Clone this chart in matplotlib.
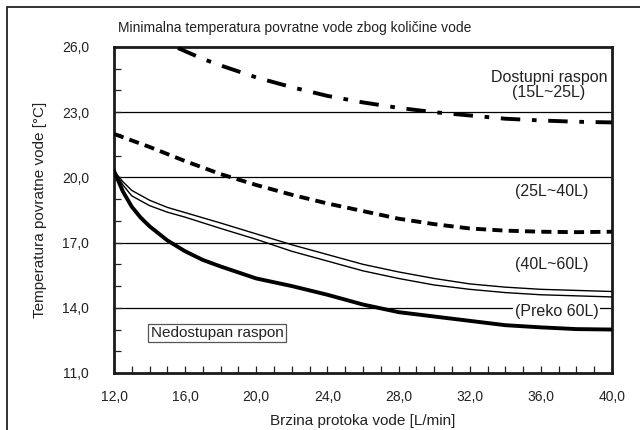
import numpy as np
import matplotlib
matplotlib.use('Agg')
import matplotlib.pyplot as plt
from matplotlib.patches import Rectangle
from matplotlib.ticker import MultipleLocator

plt.rcParams['font.family'] = ['Liberation Sans', 'DejaVu Sans']
plt.rcParams['font.size'] = 10

# krivulje minimalne temperature povratne vode
x_1525 = [15.6, 17, 18, 20, 22, 24, 26, 28, 30, 32, 34, 36, 38, 40]
y_1525 = [25.95, 25.45, 25.15, 24.6, 24.15, 23.75, 23.45, 23.2, 23.0, 22.85, 22.7, 22.62, 22.56, 22.53]

x_2540 = [12, 14, 16, 18, 20, 22, 24, 26, 28, 30, 32, 34, 36, 38, 40]
y_2540 = [22.0, 21.4, 20.75, 20.15, 19.65, 19.2, 18.8, 18.45, 18.1, 17.85, 17.65, 17.55, 17.5, 17.48, 17.5]

x_4060 = [12, 12.5, 13, 14, 15, 16, 18, 20, 22, 24, 26, 28, 30, 32, 34, 36, 38, 40]
y_4060_a = [20.3, 19.8, 19.4, 18.95, 18.62, 18.38, 17.9, 17.4, 16.9, 16.45, 16.0, 15.65, 15.35, 15.1, 14.95, 14.85, 14.8, 14.75]
y_4060_b = [20.3, 19.65, 19.15, 18.7, 18.4, 18.17, 17.65, 17.15, 16.6, 16.15, 15.7, 15.35, 15.05, 14.85, 14.7, 14.6, 14.55, 14.5]

x_60 = [12, 12.5, 13, 13.5, 14, 15, 16, 17, 18, 20, 22, 24, 26, 28, 30, 32, 34, 36, 38, 40]
y_60 = [20.3, 19.35, 18.65, 18.15, 17.75, 17.1, 16.6, 16.2, 15.9, 15.35, 15.0, 14.6, 14.15, 13.8, 13.6, 13.4, 13.2, 13.1, 13.02, 13.0]

x_ticks = [12, 16, 20, 24, 28, 32, 36, 40]
y_ticks = [11, 14, 17, 20, 23, 26]

fig = plt.figure(figsize=(6.4, 4.3), dpi=100)
ax = fig.add_axes([114/640, 57/430, 498/640, 326/430])

# okvir oko cijele slike
fig.patches.append(Rectangle((7/640, -0.1), 1.2, (423/430) + 0.1, transform=fig.transFigure,
                             fill=False, edgecolor='#222222', linewidth=1.3, clip_on=False))

for yg in [14, 17, 20, 23]:
    ax.axhline(yg, color='black', linewidth=0.9, zorder=1)

ax.plot(x_1525, y_1525, color='black', linewidth=2.8, dashes=(5, 3, 1.2, 3), zorder=3)
ax.plot(x_2540, y_2540, color='black', linewidth=2.8, dashes=(2.6, 1.6), zorder=3)
ax.plot(x_4060, y_4060_a, color='black', linewidth=1.0, zorder=3)
ax.plot(x_4060, y_4060_b, color='black', linewidth=1.0, zorder=3)
ax.plot(x_60, y_60, color='black', linewidth=2.8, zorder=3)

ax.set_xlim(12, 40)
ax.set_ylim(11, 26)
ax.set_xticks(x_ticks)
ax.set_yticks(y_ticks)
ax.set_xticklabels([('%.1f' % v).replace('.', ',') for v in x_ticks])
ax.set_yticklabels([('%.1f' % v).replace('.', ',') for v in y_ticks])
ax.xaxis.set_minor_locator(MultipleLocator(1))
ax.yaxis.set_minor_locator(MultipleLocator(1))
ax.tick_params(which='both', direction='in', length=5, width=0.9, color='#222222')
ax.tick_params(axis='x', which='major', pad=12, labelsize=10, labelcolor='#222222')
ax.tick_params(axis='y', which='major', pad=18, labelsize=10, labelcolor='#222222')
for s in ax.spines.values():
    s.set_linewidth(2.0)
    s.set_color('#1a1a1a')

ax.set_xlabel('Brzina protoka vode [L/min]', fontsize=11, color='#222222')
ax.xaxis.set_label_coords(0.5, -0.125)
ax.set_ylabel('Temperatura povratne vode [°C]', fontsize=11, color='#222222')
ax.yaxis.set_label_coords(-0.135, 0.5)

fig.text(295/640, 1 - 28/430, 'Minimalna temperatura povratne vode zbog količine vode',
         ha='center', va='center', fontsize=10, color='#222222')

ax.text(36.45, 24.25, 'Dostupni raspon\n(15L~25L)', ha='center', va='center',
        fontsize=11.5, color='#222222', linespacing=1.0)
ax.text(36.6, 19.35, '(25L~40L)', ha='center', va='center', fontsize=11.5, color='#222222')
ax.text(36.6, 16.0, '(40L~60L)', ha='center', va='center', fontsize=11.5, color='#222222')
ax.text(36.9, 13.85, '(Preko 60L)', ha='center', va='center', fontsize=11.5, color='#222222',
        bbox=dict(boxstyle='square,pad=0.1', facecolor='white', edgecolor='none'), zorder=4)
ax.text(17.8, 12.85, 'Nedostupan raspon', ha='center', va='center', fontsize=11, color='#222222',
        bbox=dict(boxstyle='square,pad=0.15', facecolor='white', edgecolor='#555555', linewidth=0.9))

fig.savefig('out.png', dpi=100)
